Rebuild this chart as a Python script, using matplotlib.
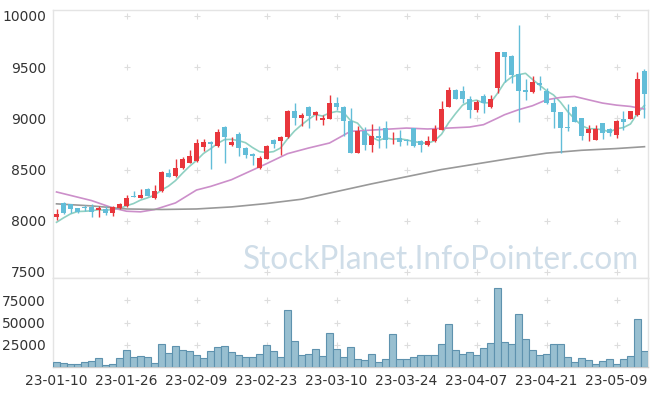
"""
Candlestick chart with moving averages and volume panel.
"""
import numpy as np
import pandas as pd
import matplotlib
matplotlib.use('Agg')
import matplotlib.pyplot as plt

# --- data --------------------------------------------------------------------
dates = ['23-01-10', '23-01-26', '23-02-09', '23-02-23', '23-03-10',
         '23-03-24', '23-04-07', '23-04-21', '23-05-09']
date_idx = [0, 10, 20, 30, 40, 50, 60, 70, 80]

open_ = [8034, 8174, 8164, 8120, 8130, 8131, 8103, 8119, 8077, 8122,
         8142, 8246, 8226, 8314, 8219, 8287, 8470, 8434, 8519, 8564,
         8580, 8716, 8769, 8726, 8912, 8736, 8847, 8710, 8655, 8515,
         8606, 8791, 8782, 8814, 9074, 8999, 9110, 9028, 8980, 8996,
         9149, 9110, 8977, 8665, 8873, 8743, 8830, 8908, 8806, 8808,
         8791, 8905, 8775, 8736, 8775, 8889, 9110, 9279, 9269, 9191,
         9077, 9220, 9110, 9301, 9646, 9610, 9435, 9272, 9253, 9344,
         9262, 9149, 9061, 8912, 9110, 9002, 8857, 8788, 8954, 8896,
         8834, 8996, 8996, 9032, 9464]
high = [8116, 8180, 8168, 8125, 8158, 8168, 8148, 8142, 8142, 8171,
        8255, 8294, 8314, 8318, 8353, 8486, 8505, 8603, 8623, 8694,
        8798, 8798, 8775, 8896, 8922, 8818, 8863, 8720, 8660, 8635,
        8743, 8801, 8824, 9077, 9149, 9052, 9116, 9067, 9035, 9223,
        9204, 9116, 9100, 8922, 8912, 8947, 8922, 8970, 8866, 8889,
        8795, 8908, 8785, 8830, 8931, 9165, 9305, 9285, 9311, 9214,
        9181, 9237, 9230, 9652, 9650, 9615, 9912, 9383, 9409, 9409,
        9295, 9197, 9065, 9142, 9116, 9005, 8937, 8931, 8958, 8905,
        8986, 9067, 9076, 9448, 9480]
low = [8005, 8068, 8077, 8080, 8100, 8038, 8038, 8054, 8045, 8118,
       8136, 8229, 8224, 8244, 8216, 8285, 8424, 8430, 8509, 8560,
       8574, 8684, 8505, 8720, 8564, 8733, 8629, 8613, 8548, 8505,
       8603, 8710, 8645, 8812, 8937, 8921, 8905, 8986, 8937, 8993,
       9084, 8824, 8663, 8663, 8687, 8671, 8710, 8710, 8752, 8726,
       8743, 8720, 8671, 8733, 8769, 8886, 9108, 9185, 9149, 9002,
       9057, 9052, 9100, 9246, 9350, 9344, 8960, 9181, 9250, 9279,
       9142, 8905, 8662, 8879, 8960, 8785, 8775, 8786, 8798, 8830,
       8808, 8889, 8994, 9025, 9002]
close = [8067, 8073, 8116, 8087, 8120, 8090, 8129, 8080, 8136, 8161,
         8226, 8236, 8249, 8246, 8294, 8472, 8431, 8519, 8606, 8629,
         8759, 8772, 8746, 8866, 8818, 8772, 8710, 8645, 8629, 8616,
         8733, 8752, 8821, 9074, 9002, 9032, 9018, 9057, 9002, 9149,
         9110, 8970, 8665, 8873, 8743, 8830, 8808, 8791, 8810, 8765,
         8775, 8726, 8736, 8775, 8896, 9090, 9279, 9188, 9188, 9077,
         9155, 9149, 9191, 9649, 9603, 9425, 9262, 9259, 9350, 9327,
         9149, 9057, 8905, 8902, 8964, 8824, 8899, 8899, 8857, 8857,
         8977, 8960, 9074, 9386, 9240]
volume = [5300, 4100, 3000, 3000, 5600, 6700, 9700, 1900, 3000, 9700,
          18700, 10800, 12000, 10800, 4100, 25400, 15300, 23900, 18700, 17600,
          13100, 9700, 17600, 22100, 23200, 16500, 13100, 10800, 10800, 14200,
          24300, 17600, 10800, 63500, 28800, 13100, 14200, 19800, 12000, 37800,
          19800, 10800, 22100, 8600, 7500, 14200, 5300, 8600, 36700, 8600,
          8600, 10800, 13100, 13100, 13100, 25400, 47900, 18700, 14200, 16500,
          13100, 21000, 26600, 89000, 27700, 25400, 59100, 31000, 18700, 13100,
          14200, 25400, 25400, 10800, 5300, 9700, 7500, 3000, 6400, 8600,
          3000, 8600, 12000, 53500, 17600]

# closes before the first visible day (needed for the 5-day average)
prev_close = [7858, 7921, 7972, 8107]

# 20- and 60-day averages
ma20_idx = [0, 5, 8, 10, 12, 14, 17, 20, 22, 25, 30, 33, 36, 39, 42, 46, 50,
            53, 56, 59, 61, 63, 64, 66, 68, 70, 72, 74, 76, 78, 80, 82, 84]
ma20 = [8281, 8197, 8126, 8093, 8087, 8109, 8174, 8300, 8335, 8401, 8557,
        8655, 8710, 8759, 8873, 8889, 8905, 8896, 8905, 8915, 8938, 9002,
        9035, 9084, 9123, 9181, 9204, 9214, 9181, 9149, 9129, 9116, 9090]
ma60_idx = [0, 5, 10, 15, 20, 25, 30, 35, 40, 45, 50, 55, 60, 65, 70, 75,
            80, 84]
ma60 = [8165, 8145, 8115, 8110, 8115, 8135, 8168, 8210, 8285, 8360, 8430,
        8500, 8555, 8610, 8660, 8688, 8705, 8723]

UP = '#e8363c'
DOWN = '#62bdd8'


def draw_candles(ax, o, h, l, c):
    """Dibuja velas: rojo sube, azul baja."""
    x = np.arange(len(c))
    o, h, l, c = map(np.asarray, (o, h, l, c))
    col = np.where(c >= o, UP, DOWN)
    ax.vlines(x, l, h, colors=col, linewidth=1.0, zorder=3)
    bottom = np.minimum(o, c)
    height = np.maximum(np.abs(c - o), 6)
    ax.bar(x, height, bottom=bottom, width=0.72, color=col, linewidth=0,
           zorder=4)


def style_axis(ax):
    for side in ['top', 'right', 'left', 'bottom']:
        ax.spines[side].set_color('#e4e4e4')
        ax.spines[side].set_linewidth(1.0)
    ax.tick_params(length=0, labelsize=10, colors='#333333', pad=5)


fig = plt.figure(figsize=(6.57, 3.96), dpi=100)
ax = fig.add_axes([0.0807, 0.298, 0.9056, 0.6768])
axv = fig.add_axes([0.0807, 0.0732, 0.9056, 0.2248], sharex=ax)

n = len(close)
draw_candles(ax, open_, high, low, close)

s = pd.Series(prev_close + close)
ma5 = s.rolling(5).mean().to_numpy()[len(prev_close):]
ax.plot(np.arange(n), ma5, color='#8fd0c2', linewidth=1.2, zorder=2)
ax.plot(ma20_idx, ma20, color='#cc8fca', linewidth=1.2, zorder=2)
ax.plot(ma60_idx, ma60, color='#999999', linewidth=1.2, zorder=2)

yticks = [7500, 8000, 8500, 9000, 9500, 10000]
ax.set_ylim(7441, 10058)
ax.set_yticks(yticks)
ax.set_xlim(-0.5, n - 0.5)
style_axis(ax)
ax.tick_params(labelbottom=False)

# grid shown as small crosses at the intersections
gx, gy = np.meshgrid(date_idx[1:], yticks)
ax.scatter(gx.ravel(), gy.ravel(), marker='+', s=14, color='#dddddd',
           linewidths=0.8, zorder=1)

ax.text(0.985, 0.035, 'StockPlanet.InfoPointer.com', transform=ax.transAxes,
        ha='right', va='baseline', fontsize=22.7, color='#cfdde8',
        family='Lato', zorder=0)

axv.bar(np.arange(n), volume, width=1.0, color='#98bfd0', edgecolor='#5e92ae',
        linewidth=0.8, zorder=3)
vticks = [25000, 50000, 75000]
axv.set_ylim(0, 100000)
axv.set_yticks(vticks)
gx, gy = np.meshgrid(date_idx[1:], vticks)
axv.scatter(gx.ravel(), gy.ravel(), marker='+', s=14, color='#dddddd',
            linewidths=0.8, zorder=1)
axv.set_xticks(date_idx)
axv.set_xticklabels(dates)
style_axis(axv)
axv.spines['bottom'].set_color('#cccccc')

fig.savefig('out.png', dpi=100, facecolor='white')
